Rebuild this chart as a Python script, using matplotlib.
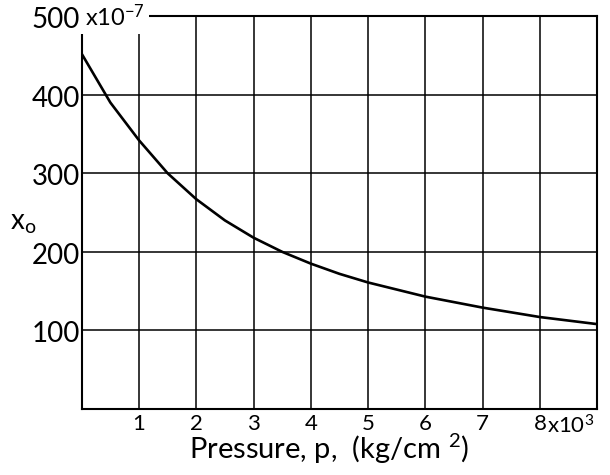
import matplotlib
matplotlib.use("Agg")
import matplotlib.pyplot as plt
from matplotlib.transforms import offset_copy

# pressure in 10^3 kg/cm^2, x0 in units of 10^-7
pressure = [0, 0.5, 1, 1.5, 2, 2.5, 3, 3.5, 4, 4.5, 5, 6, 7, 8, 9]
x0 = [452, 390, 342, 300, 267, 240, 218, 200, 185, 172, 161, 143, 129, 117, 108]

x_ticks = [1, 2, 3, 4, 5, 6, 7, 8]
x_tick_labels = ["1", "2", "3", "4", "5", "6", "7", "8"]
y_ticks = [100, 200, 300, 400, 500]
y_tick_labels = ["100", "200", "300", "400", "500"]

plt.rcParams['font.family'] = ['Lato', 'DejaVu Sans']
plt.rcParams['mathtext.default'] = 'regular'

fig = plt.figure(figsize=(6.1, 4.75), dpi=100)
ax = fig.add_axes([0.134, 0.139, 0.845, 0.827])

ax.plot(pressure, x0, color="black", linewidth=1.9, zorder=4)

ax.set_xlim(0, 9)
ax.set_ylim(0, 500)
ax.set_xticks(range(0, 10))
ax.set_yticks(range(0, 501, 100))
ax.grid(True, color="black", linewidth=1.1)
ax.tick_params(length=0, labelbottom=False, labelleft=False)
for s in ax.spines.values():
    s.set_linewidth(1.5)

below = offset_copy(ax.transData, fig=fig, x=0, y=-5, units="dots")
for x, lab in zip(x_ticks, x_tick_labels):
    ax.text(x, 0, lab, ha="center", va="top", fontsize=16, transform=below)
right_of8 = offset_copy(ax.transData, fig=fig, x=7, y=-5, units="dots")
ax.text(8, 0, r"x10$^{3}$", ha="left", va="top", fontsize=16, transform=right_of8)

left_of = offset_copy(ax.transData, fig=fig, x=-2, y=-4, units="dots")
for y, lab in zip(y_ticks, y_tick_labels):
    ax.text(0, y, lab, ha="right", va="center", fontsize=20, transform=left_of)

ax.text(0.05, 500, r"x10$^{-7}$", ha="left", va="center", fontsize=17, zorder=5,
        clip_on=False, bbox=dict(facecolor="white", edgecolor="none", pad=3))

ax.text(-1.02, 237, r"x$_o$", ha="center", va="center", fontsize=20)

fig.text(0.54, 0.018, r"Pressure, p,  (kg/cm $^{2}$)", ha="center", va="bottom",
         fontsize=21)

fig.savefig("out.png", dpi=100, facecolor="white")
